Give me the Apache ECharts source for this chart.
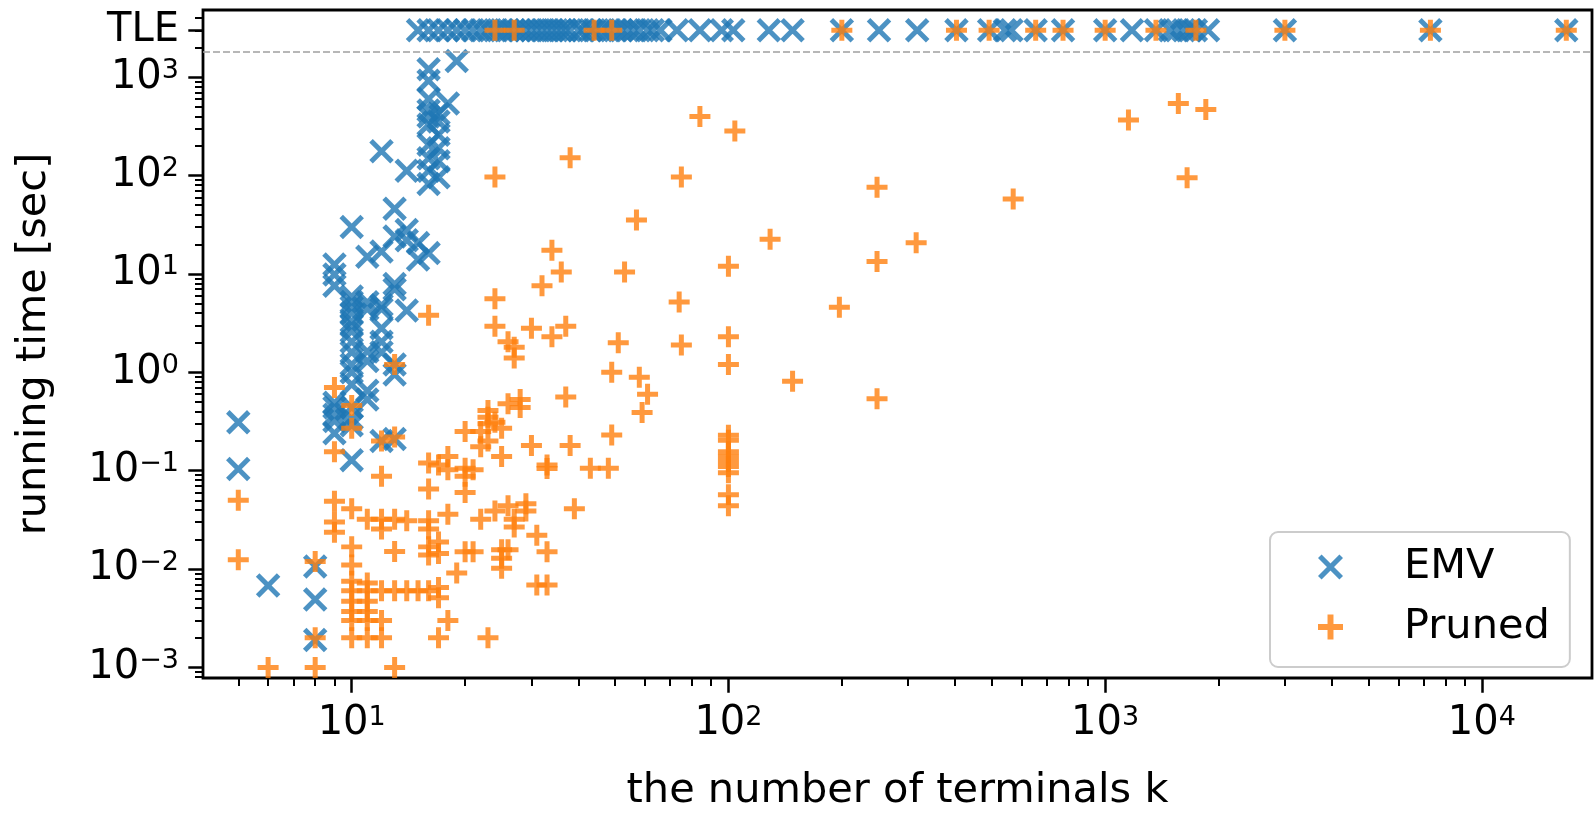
<!DOCTYPE html>
<html>
<head>
<meta charset="utf-8">
<title>Running time vs number of terminals</title>
<script src="https://cdn.jsdelivr.net/npm/echarts@6/dist/echarts.min.js"></script>
<style>
  html, body { margin: 0; padding: 0; background: #ffffff; }
  #chart { width: 1595px; height: 817px; }
</style>
</head>
<body>
<div id="chart"></div>
<script>
// Time limit (seconds) drawn as the dashed line, and the value where timed-out runs are placed.
const TLE_LIMIT = 1800;
const TLE_VALUE = 3000;

const xTickValues = [10, 100, 1000, 10000];
const yTickValues = [0.001, 0.01, 0.1, 1, 10, 100, 1000, TLE_VALUE];

// EMV: [k, seconds] for instances solved within the limit
const emvSolved = [
  [5, 0.31], [5, 0.104], [6, 0.0068], [8, 0.0106], [8, 0.0049], [8, 0.0019],
  [9, 0.24], [9, 0.32], [9, 0.37], [9, 0.44], [9, 0.49], [9, 7.6], [9, 9.9], [9, 12.5],
  [10, 0.128], [10, 0.29], [10, 0.34], [10, 0.44], [10, 0.75], [10, 1.0], [10, 1.2], [10, 1.6],
  [10, 2.05], [10, 2.6], [10, 3.0], [10, 3.3], [10, 4.0], [10, 4.6], [10, 5.2], [10, 5.9], [10, 30],
  [11, 0.53], [11, 0.65], [11, 1.3], [11, 1.63], [11, 4.4], [11, 5.15], [11, 15],
  [12, 0.2], [12, 1.6], [12, 2.05], [12, 2.8], [12, 4.4], [12, 4.8], [12, 16.9], [12, 177],
  [13, 0.21], [13, 0.95], [13, 1.2], [13, 7.0], [13, 7.9], [13, 24], [13, 46],
  [14, 4.25], [14, 22], [14, 28], [14, 112],
  [15, 14], [15, 20.6],
  [16, 16.3], [16, 82], [16, 112], [16, 150], [16, 206], [16, 330], [16, 400], [16, 460],
  [16, 600], [16, 920], [16, 1210],
  [17, 96], [17, 140], [17, 190], [17, 260], [17, 355], [17, 425],
  [18, 540], [19, 1460]
];

// EMV: k of instances that exceeded the limit
const emvTimeout = [
  15, 16, 17, 18, 19, 20, 21, 22, 23, 24, 25, 26, 27, 28, 29, 30, 31, 32, 33, 34, 35, 36, 37, 38,
  40, 41, 43, 44, 46, 48, 50, 52, 54, 56, 58, 61, 63, 66, 73, 84, 96, 103, 128, 148, 200, 251,
  317, 403, 492, 542, 564, 654, 773, 1000, 1178, 1364, 1486, 1549, 1617, 1678, 1741, 1875,
  3000, 7300, 16750
];

// Pruned: [k, seconds] for instances solved within the limit
const prunedSolved = [
  [5, 0.05], [5, 0.0124], [6, 0.001], [8, 0.0119], [8, 0.002], [8, 0.001],
  [9, 0.7], [9, 0.156], [9, 0.049], [9, 0.03], [9, 0.0237],
  [10, 0.46], [10, 0.27], [10, 0.041], [10, 0.0168], [10, 0.011], [10, 0.0075], [10, 0.006],
  [10, 0.0047], [10, 0.0037], [10, 0.003], [10, 0.002],
  [11, 0.032], [11, 0.0072], [11, 0.006], [11, 0.0047], [11, 0.0037], [11, 0.003], [11, 0.002],
  [12, 0.2], [12, 0.088], [12, 0.032], [12, 0.0255], [12, 0.006], [12, 0.003], [12, 0.002],
  [13, 1.2], [13, 0.22], [13, 0.032], [13, 0.0151], [13, 0.006], [13, 0.001],
  [14, 0.031], [14, 0.006], [15, 0.006],
  [16, 3.8], [16, 0.12], [16, 0.065], [16, 0.031], [16, 0.0255], [16, 0.0168], [16, 0.0139], [16, 0.006],
  [17, 0.114], [17, 0.0188], [17, 0.0144], [17, 0.0065], [17, 0.0051], [17, 0.002],
  [18, 0.139], [18, 0.102], [18, 0.036], [18, 0.003], [19, 0.0091],
  [20, 0.25], [20, 0.106], [20, 0.088], [20, 0.06], [20, 0.015],
  [21, 0.102], [21, 0.015],
  [22, 0.25], [22, 0.175], [22, 0.032],
  [23, 0.41], [23, 0.35], [23, 0.3], [23, 0.2], [23, 0.002],
  [24, 97], [24, 5.6], [24, 2.94], [24, 0.31], [24, 0.039],
  [25, 0.27], [25, 0.139], [25, 0.0157], [25, 0.0129], [25, 0.0102],
  [26, 2.05], [26, 0.48], [26, 0.044], [26, 0.0157],
  [27, 1.8], [27, 1.4], [27, 0.032], [27, 0.0267],
  [28, 0.53], [28, 0.44], [29, 0.046], [29, 0.039], [30, 2.8], [30, 0.18],
  [31, 0.022], [31, 0.0069], [32, 7.6],
  [33, 0.114], [33, 0.105], [33, 0.015], [33, 0.0069],
  [34, 17.4], [34, 2.3], [36, 10.5], [37, 2.94], [37, 0.56], [38, 152], [38, 0.18], [39, 0.041],
  [43, 0.106], [48, 0.106], [49, 0.23], [49, 1.0], [51, 2.0], [53, 10.5],
  [57, 35.3], [58, 0.89], [59, 0.39], [61, 0.6],
  [74, 5.2], [75, 97], [75, 1.9], [84, 398],
  [100, 12], [100, 2.3], [100, 1.2], [100, 0.229], [100, 0.204], [100, 0.156], [100, 0.139],
  [100, 0.124], [100, 0.11], [100, 0.095], [100, 0.057], [100, 0.044],
  [104, 285], [129, 22.6], [148, 0.81], [197, 4.6],
  [248, 76], [248, 13.4], [248, 0.54],
  [315, 20.8], [570, 58], [1153, 367], [1564, 540], [1650, 95], [1850, 470]
];

// Pruned: k of instances that exceeded the limit
const prunedTimeout = [24, 27, 44, 49, 200, 403, 492, 654, 773, 1000, 1364, 1741, 3000, 7300, 16750];

const FONT = 'DejaVu Sans';

// Marker outlines (filled paths): an "x" with butt ends and a "+"
const X_PATH = 'path://M8.4,-8.4L108.4,91.6L91.6,108.4L-8.4,8.4ZM91.6,-8.4L108.4,8.4L8.4,108.4L-8.4,91.6Z';
const PLUS_PATH = 'path://M38.1,0L61.9,0L61.9,100L38.1,100ZM0,38.1L100,38.1L100,61.9L0,61.9Z';

const emvData = emvSolved.concat(emvTimeout.map(k => [k, TLE_VALUE]));
const prunedData = prunedSolved.concat(prunedTimeout.map(k => [k, TLE_VALUE]));

function powerLabel(v) {
  if (v === TLE_VALUE) return 'TLE';
  const e = Math.round(Math.log10(v));
  const txt = e < 0 ? '\u2212' + (-e) : String(e);
  return '{b|10}{s|' + txt + '}';
}

const richPower = {
  b: { fontFamily: FONT, fontSize: 40, lineHeight: 40, color: '#000', verticalAlign: 'bottom' },
  s: { fontFamily: FONT, fontSize: 27, lineHeight: 28, color: '#000', verticalAlign: 'top', padding: [0, 0, 18, 0] }
};

const chart = echarts.init(document.getElementById('chart'), null, { renderer: 'canvas' });

chart.setOption({
  animation: false,
  backgroundColor: '#ffffff',
  textStyle: { fontFamily: FONT },
  grid: {
    left: 203, right: 3, top: 10, bottom: 129,
    show: true, borderColor: '#000', borderWidth: 2.8, backgroundColor: 'transparent'
  },
  xAxis: {
    type: 'log', logBase: 10, min: 4.03, max: 19600,
    name: 'the number of terminals k', nameLocation: 'middle', nameGap: 92,
    nameTextStyle: { fontFamily: FONT, fontSize: 41.5, color: '#000' },
    axisLine: { show: false },
    splitLine: { show: false },
    axisTick: { show: true, length: 14.7, lineStyle: { color: '#000', width: 2.5 }, customValues: xTickValues },
    minorTick: { show: true, splitNumber: 9, length: 8, lineStyle: { color: '#000', width: 2 } },
    axisLabel: {
      customValues: xTickValues, formatter: powerLabel, margin: 26,
      color: '#000', fontFamily: FONT, fontSize: 40, rich: richPower
    }
  },
  yAxis: {
    type: 'log', logBase: 10, min: 0.00078, max: 4830,
    name: 'running time [sec]', nameLocation: 'middle', nameGap: 148, nameRotate: 90,
    nameTextStyle: { fontFamily: FONT, fontSize: 41.5, color: '#000' },
    axisLine: { show: false },
    splitLine: { show: false },
    axisTick: { show: true, length: 14.7, lineStyle: { color: '#000', width: 2.5 }, customValues: yTickValues },
    minorTick: { show: true, splitNumber: 9, length: 8, lineStyle: { color: '#000', width: 2 } },
    axisLabel: {
      customValues: yTickValues, formatter: powerLabel, margin: 24,
      color: '#000', fontFamily: FONT, fontSize: 40, rich: richPower
    }
  },
  legend: {
    orient: 'vertical', left: 1270, top: 532,
    padding: [14, 20, 19, 48],
    itemWidth: 25, itemHeight: 42, itemGap: 18,
    selectedMode: false,
    backgroundColor: 'rgba(255,255,255,0.8)',
    borderColor: '#cccccc', borderWidth: 2, borderRadius: 8,
    textStyle: { fontFamily: FONT, fontSize: 41.5, color: '#000', padding: [0, 0, 0, 56] },
    data: [
      { name: 'EMV', icon: X_PATH },
      { name: 'Pruned', icon: PLUS_PATH }
    ]
  },
  series: [
    {
      name: 'EMV', type: 'scatter', data: emvData,
      symbol: X_PATH, symbolSize: 24.5,
      itemStyle: { color: '#1f77b4', opacity: 0.8 },
      emphasis: { disabled: true }
    },
    {
      name: 'Pruned', type: 'scatter', data: prunedData,
      symbol: PLUS_PATH, symbolSize: 21,
      itemStyle: { color: '#ff7f0e', opacity: 0.8 },
      emphasis: { disabled: true },
      markLine: {
        silent: true, symbol: ['none', 'none'], label: { show: false },
        lineStyle: { color: '#a0a0a0', width: 1.5, type: [7, 3], opacity: 1 },
        data: [{ yAxis: TLE_LIMIT }]
      }
    }
  ]
});
</script>
</body>
</html>
